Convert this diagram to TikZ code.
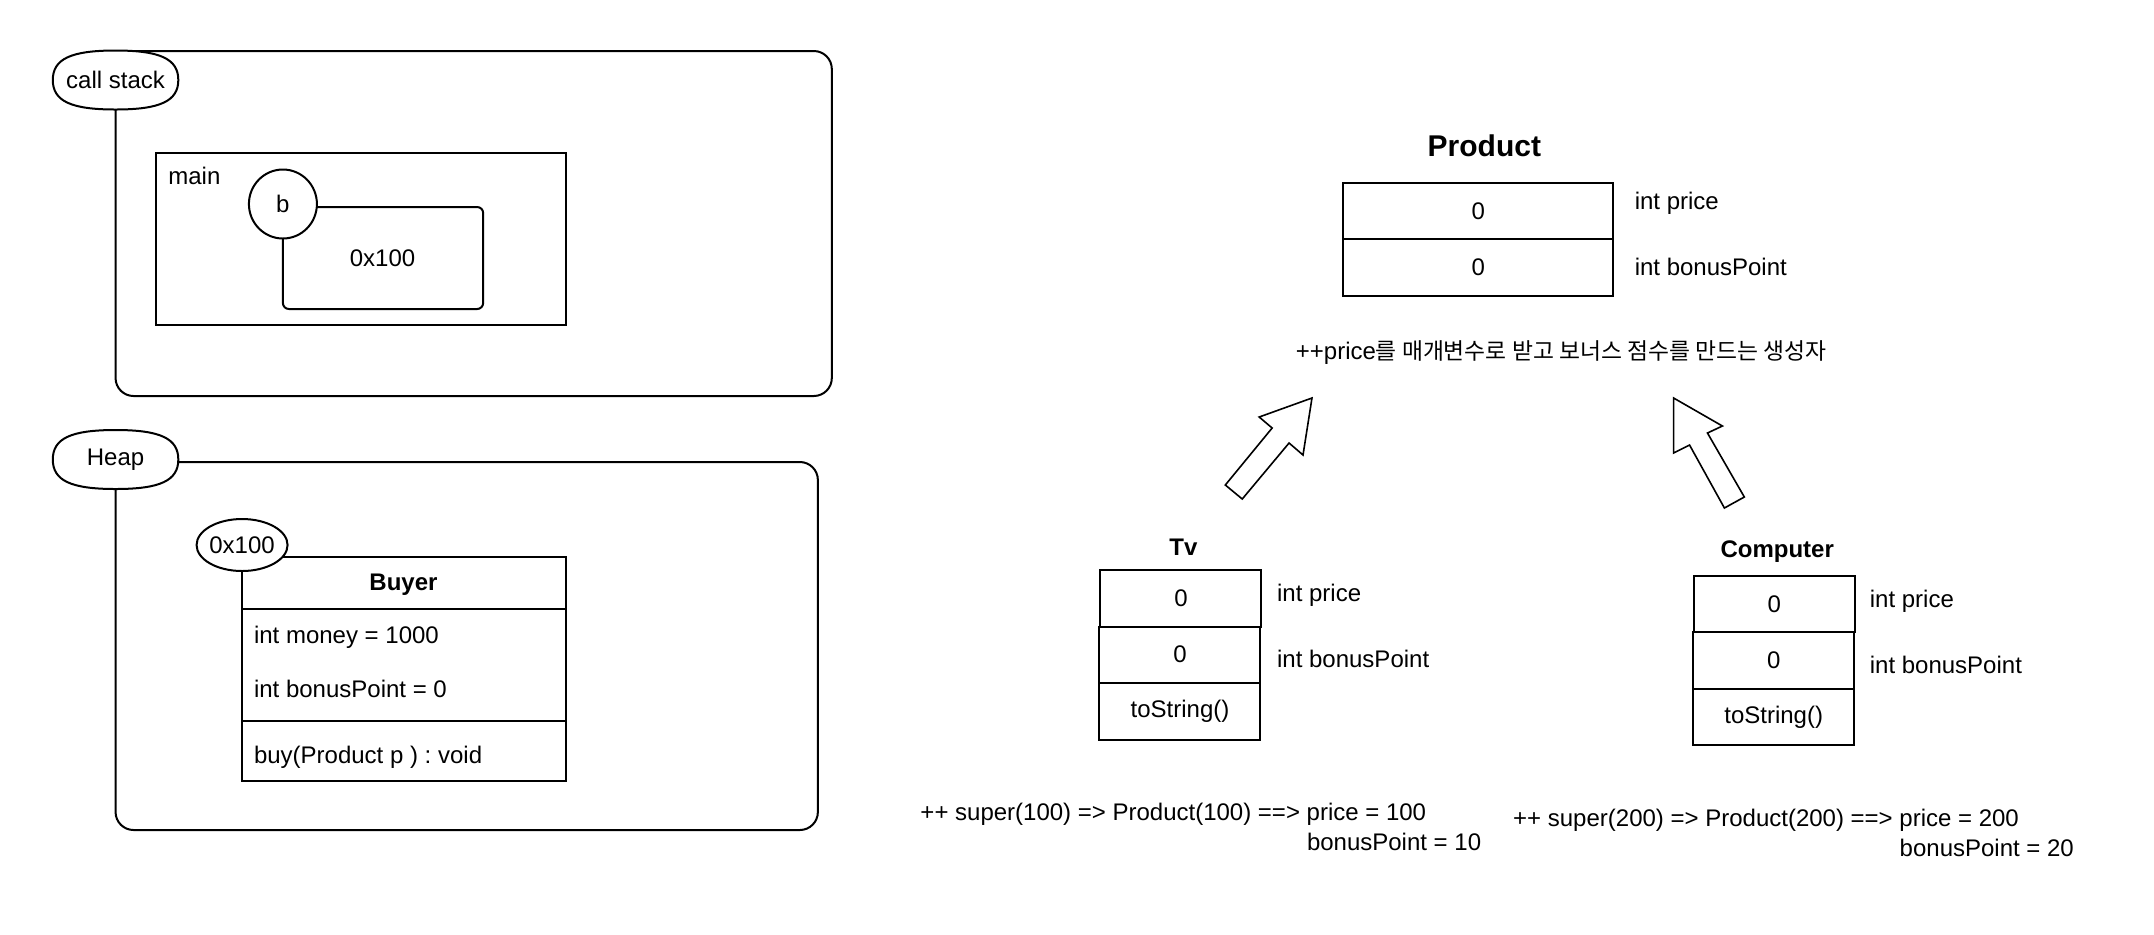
\documentclass[tikz,border=0pt]{standalone}
\usepackage{fontspec}
\setmainfont{Liberation Sans}
\newfontfamily\krfont{Noto Sans CJK KR}
\usetikzlibrary{shapes.geometric}
\newcommand\pillpath[2]{%
  \draw[fill=white] ({#1-63},{#2}) .. controls ({#1-63},{#2-21}) and ({#1-45},{#2-29.5}) .. ({#1},{#2-29.5})
    .. controls ({#1+45},{#2-29.5}) and ({#1+63},{#2-21}) .. ({#1+63},{#2})
    .. controls ({#1+63},{#2+21}) and ({#1+45},{#2+29.5}) .. ({#1},{#2+29.5})
    .. controls ({#1-45},{#2+29.5}) and ({#1-63},{#2+21}) .. ({#1-63},{#2}) -- cycle;}
\begin{document}
\frenchspacing
\begin{tikzpicture}[x=0.4981pt,y=-0.5pt,line width=1pt,
  txt/.style={inner sep=0pt,font=\fontsize{12pt}{14pt}\selectfont},
  ttl/.style={inner sep=0pt,font=\fontsize{12pt}{14pt}\selectfont\bfseries},
  tag/.style={draw,fill=white,ellipse,inner sep=0pt},
  cell/.style={draw,inner sep=0pt,font=\fontsize{12pt}{14pt}\selectfont},
  blockarrow/.style={draw,fill=white,line width=0.8pt,line join=miter}]
\useasboundingbox (0pt,0pt) rectangle (1077pt,-467pt);

% ---------- call stack ----------
\draw[rounded corners=9pt] (116,51) rectangle (835,396);
\pillpath{116}{80}
\node[txt] (cslbl) at (116,80) {call stack};
\draw (157,153) rectangle (568,325);
\node[txt,anchor=west] (mainlbl) at (168,176) {main};
\draw[rounded corners=3pt] (284,207) rectangle (485,309);
\node[txt] (addr) at (384,258) {0x100};
\node[tag,minimum width=34pt,minimum height=34.5pt] (b) at (284,204) {};
\node[txt] (blbl) at (b.center) {b};

% ---------- heap ----------
\draw[rounded corners=9pt] (116,462) rectangle (821,830);
\pillpath{116}{459.5}
\node[txt] (heaplbl) at (116,459.5) {Heap};
\draw (243,557) rectangle (568,781);
\draw (243,609) -- (568,609);
\draw (243,721) -- (568,721);
\node[ttl] (buyer) at (405,585) {Buyer};
\node[txt,anchor=west] (money) at (254,637) {int money = 1000};
\node[txt,anchor=west] (bpb) at (254,689) {int bonusPoint = 0};
\node[txt,anchor=west] (buy) at (254,757) {buy(Product p ) : void};
\node[tag,minimum width=45.5pt,minimum height=26pt] (haddr) at (243,545) {};
\node[txt] (haddrlbl) at (haddr.center) {0x100};

% ---------- Product ----------
\node[inner sep=0pt,font=\fontsize{15pt}{17pt}\selectfont\bfseries] (prod) at (1490,146) {Product};
\node[cell,minimum width=135pt,minimum height=28pt] (p1) at (1484,211) {0};
\node[cell,minimum width=135pt,minimum height=28.5pt] (p2) at (1484,267.5) {0};
\node[txt,anchor=west] (pprice) at (1640,203) {int price};
\node[txt,anchor=west] (pbonus) at (1640,267) {int bonusPoint};
\node[txt] (note) at (1567,353) {++price{\krfont\fontsize{11.4pt}{13pt}\selectfont 를 매개변수로 받고 보너스 점수를 만드는 생성자}};

% ---------- block arrows ----------
\draw[blockarrow] (1317,398) -- (1308,455) -- (1294,443) -- (1247,499) -- (1230,485) -- (1277,428) -- (1264,417) -- cycle;
\draw[blockarrow] (1680,398) -- (1729,426) -- (1714,433) -- (1751,497) -- (1731,508) -- (1696,445) -- (1680,453) -- cycle;

% ---------- Tv ----------
\node[ttl] (tv) at (1188,547) {Tv};
\node[cell,minimum width=80.5pt,minimum height=28.5pt] (t1) at (1185.5,598) {0};
\node[cell,minimum width=80.5pt,minimum height=28pt] (t2) at (1184.5,654.5) {0};
\node[cell,minimum width=80.5pt,minimum height=28.5pt] (t3) at (1184.5,711) {toString()};
\node[txt,anchor=west] (tprice) at (1281,595) {int price};
\node[txt,anchor=west] (tbonus) at (1281,659) {int bonusPoint};
\node[txt,anchor=west] (tsup) at (923,814) {++ super(100) => Product(100) ==> price = 100};
\node[txt,anchor=west] (tsup2) at (1311,842) {bonusPoint = 10};

% ---------- Computer ----------
\node[ttl] (comp) at (1784,552) {Computer};
\node[cell,minimum width=80.5pt,minimum height=28pt] (c1) at (1781,604) {0};
\node[cell,minimum width=80.5pt,minimum height=28.5pt] (c2) at (1780.5,660.5) {0};
\node[cell,minimum width=80.5pt,minimum height=28pt] (c3) at (1780.5,717) {toString()};
\node[txt,anchor=west] (cprice) at (1876,601) {int price};
\node[txt,anchor=west] (cbonus) at (1876,665) {int bonusPoint};
\node[txt,anchor=west] (csup) at (1518,820) {++ super(200) => Product(200) ==> price = 200};
\node[txt,anchor=west] (csup2) at (1906,848) {bonusPoint = 20};
\end{tikzpicture}
\end{document}
